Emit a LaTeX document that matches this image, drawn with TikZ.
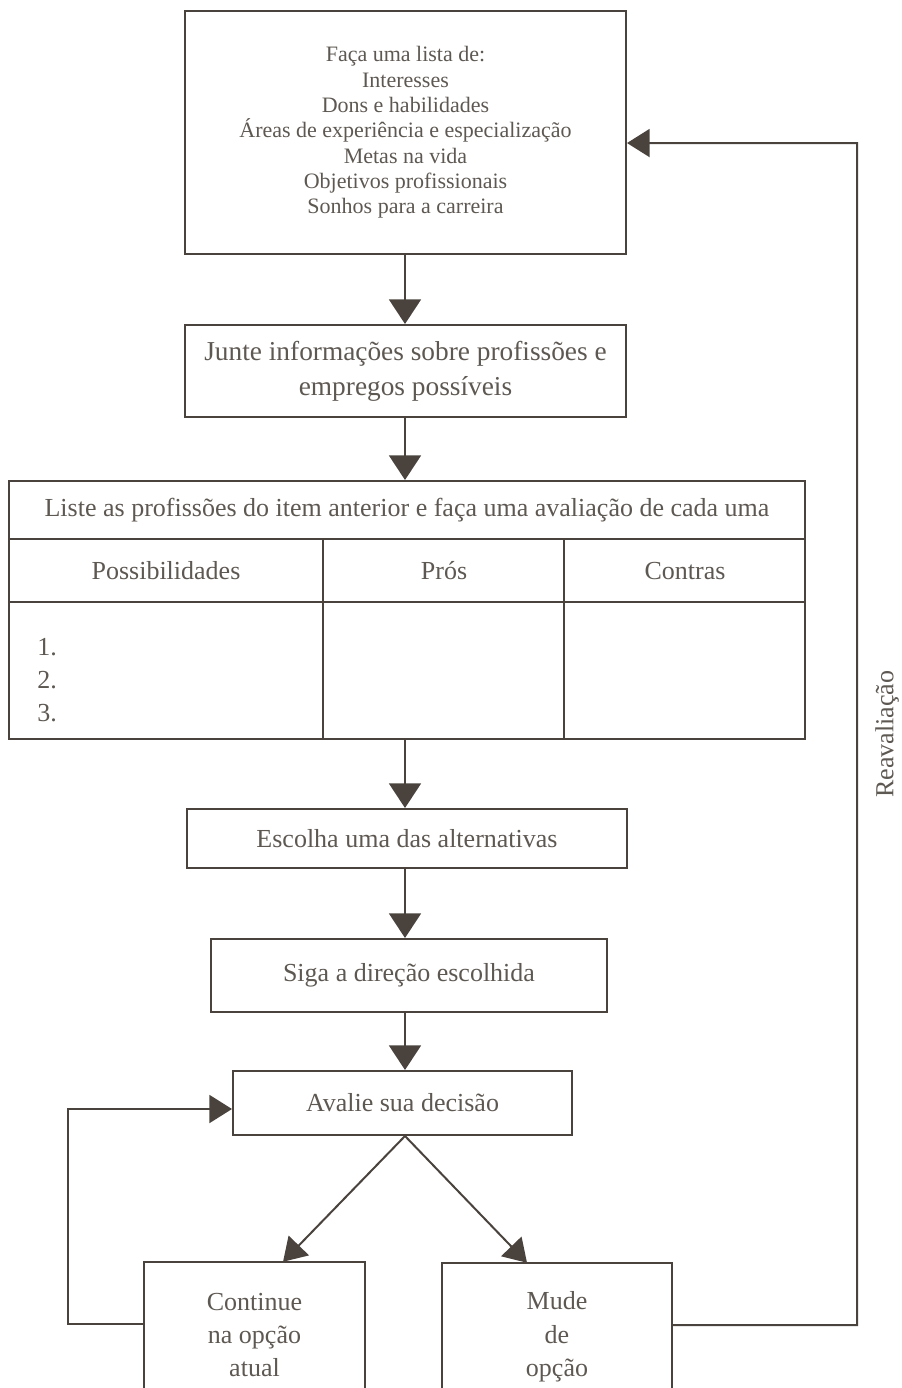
\documentclass[tikz,border=0pt]{standalone}
\usepackage{fontspec}
\setmainfont{Liberation Serif}
\usetikzlibrary{arrows.meta}
\definecolor{ln}{HTML}{4A433D}
\definecolor{tx}{HTML}{5E5852}
\begin{document}
\begin{tikzpicture}[x=0.75pt,y=-0.75pt,
  box/.style={draw=ln, line width=1.5pt, inner sep=0pt, text=tx, align=center, font=\fontsize{19.5}{25}\selectfont},
  txt/.style={text=tx, align=center, inner sep=0pt, font=\fontsize{19.5}{25}\selectfont},
  conn/.style={draw=ln, line width=1.5pt},
  arr/.style={conn, -{Triangle[length=18.5pt,width=24pt]}},
  arrs/.style={conn, -{Triangle[length=17pt,width=21pt]}}]
\useasboundingbox (0,0) rectangle (902,1388);
\coordinate (ax) at (405,0);
% boxes
\node[box, minimum width={441*0.75pt}, minimum height={243*0.75pt}, font=\fontsize{16.5}{19}\selectfont] (b1) at (405.5,132.5)
  {Faça uma lista de:\\Interesses\\Dons e habilidades\\Áreas de experiência e especialização\\Metas na vida\\Objetivos profissionais\\Sonhos para a carreira};
\node[box, minimum width={441*0.75pt}, minimum height={92*0.75pt}, font=\fontsize{20.5}{26}\selectfont] (b2) at (405.5,371)
  {Junte informações sobre profissões e\\empregos possíveis};
% table
\node[box, minimum width={796*0.75pt}, minimum height={258*0.75pt}] (tab) at (407,610) {};
\coordinate (r1) at (9,539);
\coordinate (r2) at (9,602);
\coordinate (c1) at (323,539);
\coordinate (c2) at (564,539);
\draw[conn] (r1) -- (r1 -| tab.east);
\draw[conn] (r2) -- (r2 -| tab.east);
\draw[conn] (c1) -- (c1 |- tab.south);
\draw[conn] (c2) -- (c2 |- tab.south);
\node[txt] (th) at (407,510) {Liste as profissões do item anterior e faça uma avaliação de cada uma};
\node[txt] (h1) at (166,571) {Possibilidades};
\node[txt] (h2) at (444,571) {Prós};
\node[txt] (h3) at (685,571) {Contras};
\node[txt, anchor=west] (n1) at (37,647) {1.};
\node[txt, anchor=west] (n2) at (37,680) {2.};
\node[txt, anchor=west] (n3) at (37,713) {3.};
\node[box, minimum width={440*0.75pt}, minimum height={59*0.75pt}] (b3) at (407,838.5) {Escolha uma das alternativas};
\node[box, minimum width={396*0.75pt}, minimum height={73*0.75pt}] (b4) at (409,975.5) {Siga a direção escolhida};
\node[box, minimum width={339*0.75pt}, minimum height={64*0.75pt}] (b5) at (402.5,1103) {Avalie sua decisão};
% bottom open boxes
\node[minimum width={221*0.75pt}, minimum height={136*0.75pt}, inner sep=0pt] (b6) at (254.5,1330) {};
\draw[conn] (b6.south west) -- (b6.north west) -- (b6.north east) -- (b6.south east);
\node[txt] (t6) at (254.5,1335) {Continue\\na opção\\atual};
\node[minimum width={230*0.75pt}, minimum height={134*0.75pt}, inner sep=0pt] (b7) at (557,1330) {};
\draw[conn] (b7.south west) -- (b7.north west) -- (b7.north east) -- (b7.south east);
\node[txt] (t7) at (557,1337) {Mude\\de\\opção};
% vertical arrows
\draw[arr] (b1.south -| ax) -- (b2.north -| ax);
\draw[arr] (b2.south -| ax) -- (tab.north -| ax);
\draw[arr] (tab.south -| ax) -- (b3.north -| ax);
\draw[arr] (b3.south -| ax) -- (b4.north -| ax);
\draw[arr] (b4.south -| ax) -- (b5.north -| ax);
% diagonal arrows
\draw[arrs] (b5.south -| ax) -- ([xshift=21.4pt]b6.north);
\draw[arrs] (b5.south -| ax) -- ([xshift=-22.5pt]b7.north);
% left loop
\coordinate (lc) at (68,1324);
\draw[arrs] (b6.west |- lc) -- (lc) -- (lc |- 0,1109) -- ([yshift=-4.5pt]b5.west);
% right loop
\coordinate (rc) at (857,1325);
\draw[arrs] (b7.east |- rc) -- (rc) -- (rc |- 0,143) -- ([yshift=-7.9pt]b1.east);
\node[txt, rotate=90] (re) at (887,734) {Reavaliação};
\end{tikzpicture}
\end{document}
